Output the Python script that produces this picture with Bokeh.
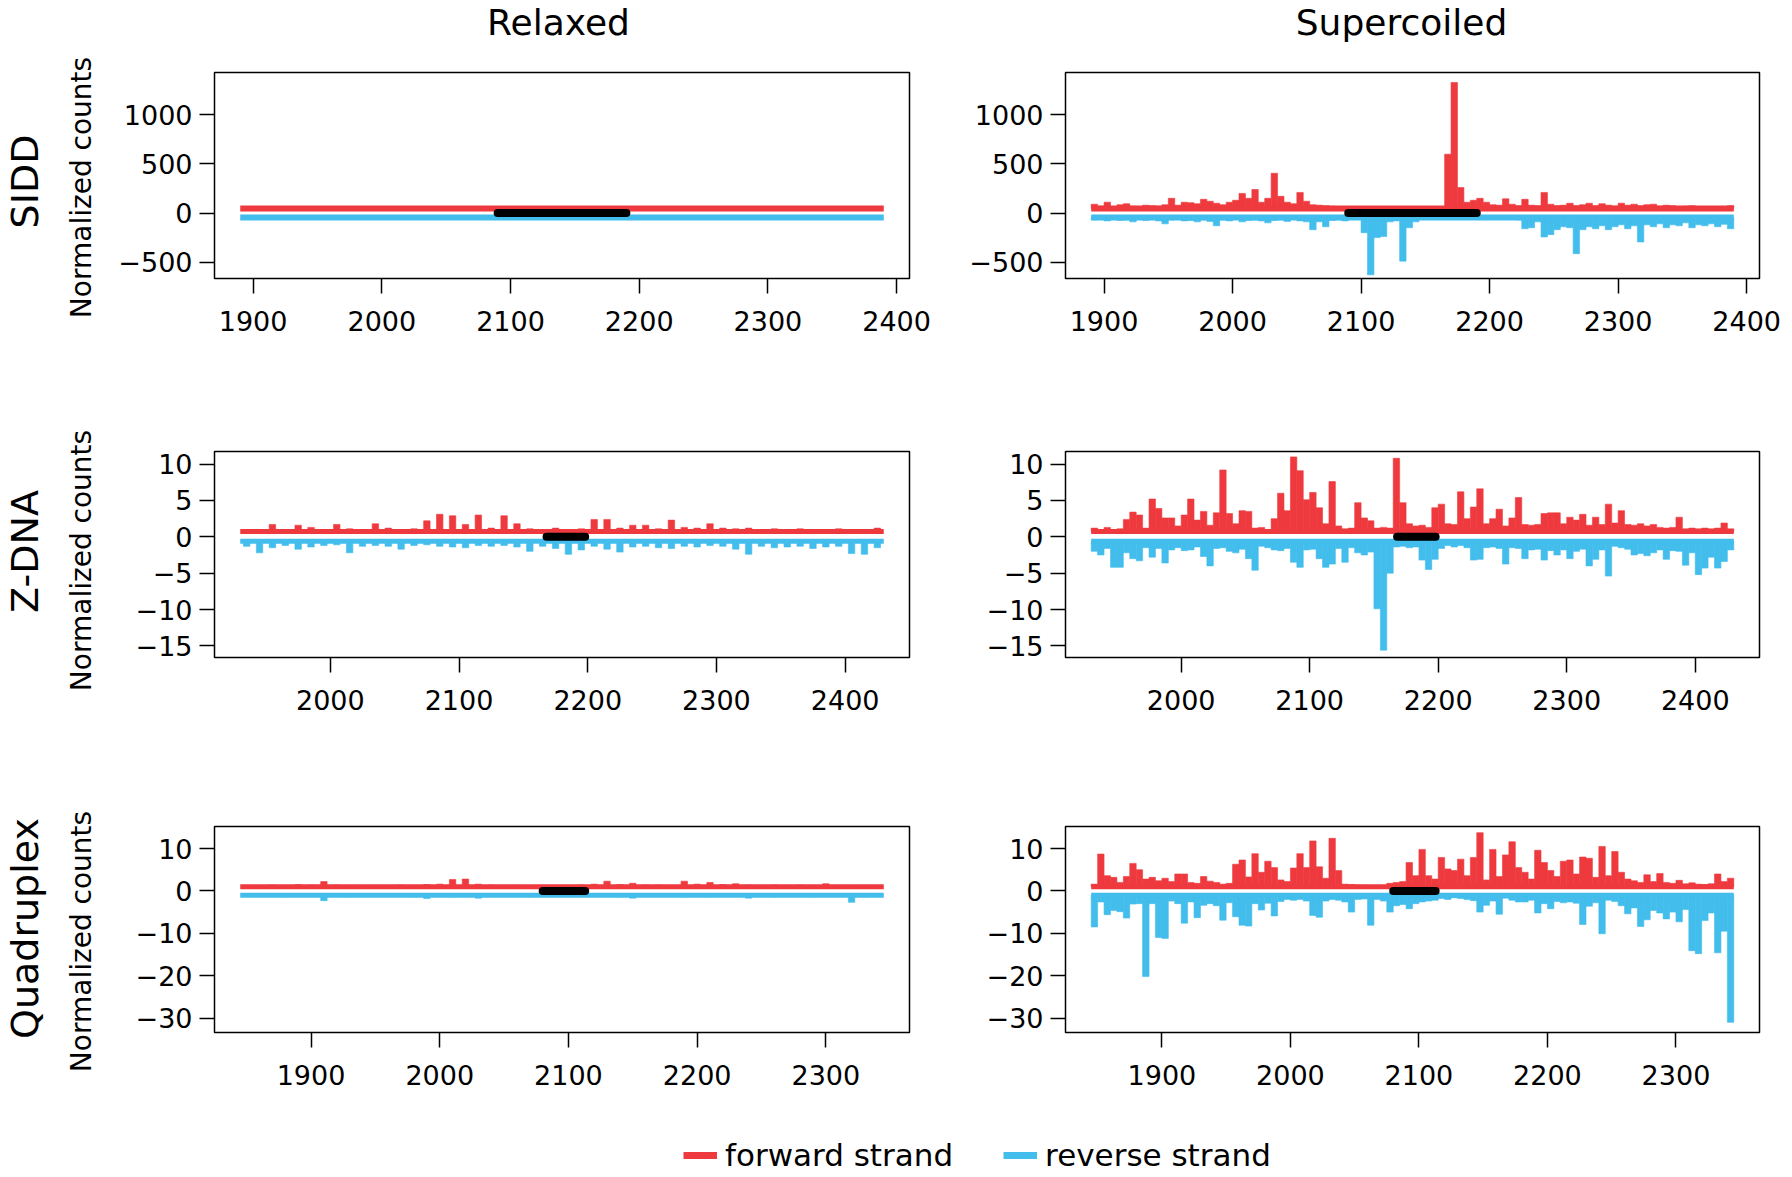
from bokeh.plotting import figure
from bokeh.layouts import column, row
from bokeh.models import Range1d, FixedTicker, Label, Legend, LegendItem
from bokeh.embed import file_html
from bokeh.resources import INLINE

FONT = "DejaVu Sans"
RED = "#EE3A3E"
BLUE = "#42BDEC"

column_titles = ["Relaxed", "Supercoiled"]
row_titles = ["SIDD", "Z-DNA", "Quadruplex"]
y_axis_label = "Normalized counts"
legend_labels = ["forward strand", "reverse strand"]

# ---------------- SIDD ----------------
sidd_span = (1890, 2390)
sidd_motif = (2090, 2190)
sidd_base = (45, -45)
sidd_ylim = (-667, 1432)
sidd_x_ticks = [1900, 2000, 2100, 2200, 2300, 2400]
sidd_y_ticks = [-500, 0, 500, 1000]
sidd_y_tick_labels = ["\u2212500", "0", "500", "1000"]

sidd_relaxed_fwd = [46, 45, 46, 45, 47, 45, 46, 45, 46, 47, 45, 46, 45, 46, 45, 47, 46, 45, 46, 45,
                    46, 45, 46, 45, 46, 45, 47, 46, 58, 52, 50, 55, 52, 54, 50, 56, 52, 55, 51, 57,
                    53, 50, 55, 52, 49, 50, 47, 46, 45, 46]
sidd_relaxed_rev = [-46, -45, -46, -47, -45, -46, -45, -46, -48, -45, -46, -45, -47, -45, -46, -45, -46, -45, -47, -46,
                    -45, -46, -45, -46, -45, -46, -47, -45, -46, -45, -46, -45, -46, -48, -45, -46, -45, -47, -46, -45,
                    -46, -45, -46, -45, -47, -46, -45, -46, -45, -46]
sidd_super_fwd = [90, 70, 110, 60, 85, 95, 70, 60, 80, 75,
                  70, 85, 150, 80, 110, 105, 95, 140, 120, 100,
                  85, 110, 130, 200, 150, 240, 110, 150, 405, 170,
                  110, 95, 210, 120, 85, 80, 75, 70, 60, 55,
                  50, 48, 46, 45, 45, 45, 45, 45, 45, 45,
                  45, 45, 46, 48, 52, 600, 1330, 260, 110, 130,
                  150, 110, 85, 80, 145, 90, 75, 140, 80, 75,
                  210, 90, 75, 80, 100, 75, 85, 100, 75, 95,
                  80, 70, 100, 80, 90, 75, 85, 90, 70, 80,
                  75, 65, 70, 75, 60, 65, 55, 60, 55, 75]
sidd_super_rev = [-70, -60, -80, -65, -75, -70, -90, -60, -75, -65,
                  -80, -110, -70, -65, -80, -75, -90, -70, -85, -130,
                  -70, -80, -65, -90, -75, -70, -80, -100, -75, -70,
                  -85, -65, -80, -90, -170, -90, -140, -75, -70, -80,
                  -60, -60, -200, -630, -250, -240, -90, -80, -490, -150,
                  -90, -60, -45, -45, -45, -45, -45, -45, -45, -45,
                  -45, -45, -45, -45, -45, -45, -70, -160, -150, -90,
                  -244, -220, -170, -140, -150, -414, -170, -140, -160, -130,
                  -170, -140, -120, -160, -130, -295, -120, -140, -110, -150,
                  -120, -130, -100, -150, -120, -130, -110, -140, -115, -160]

# ---------------- Z-DNA ----------------
zdna_span = (1930, 2430)
zdna_motif = (2168, 2198)
zdna_base = (0.72, -0.6)
zdna_ylim = (-16.6, 11.74)
zdna_x_ticks = [2000, 2100, 2200, 2300, 2400]
zdna_y_ticks = [-15, -10, -5, 0, 5, 10]
zdna_y_tick_labels = ["\u221215", "\u221210", "\u22125", "0", "5", "10"]

zdna_relaxed_fwd = [1.0, 0.9, 1.7, 1.0, 1.6, 1.3, 1.0, 1.7, 1.1, 1.0,
                    1.8, 1.2, 1.0, 1.1, 2.2, 3.1, 2.9, 1.7, 3.0, 1.2,
                    2.9, 1.8, 1.1, 1.0, 1.2, 1.0, 1.1, 2.4, 2.4, 1.2,
                    1.6, 1.6, 1.1, 2.3, 1.3, 1.2, 1.8, 1.2, 1.1, 1.2,
                    1.0, 1.1, 1.0, 1.1, 1.0, 1.0, 1.1, 1.0, 1.0, 1.2]
zdna_relaxed_rev = [-1.3, -2.2, -1.5, -1.2, -1.7, -1.4, -1.2, -1.1, -2.2, -1.3,
                    -1.2, -1.3, -1.7, -1.2, -1.1, -1.3, -1.4, -1.5, -1.2, -1.3,
                    -1.2, -1.4, -2.0, -1.3, -1.6, -2.4, -1.8, -1.3, -1.7, -2.1,
                    -1.4, -1.3, -1.5, -1.6, -1.3, -1.4, -1.2, -1.3, -1.7, -2.4,
                    -1.3, -1.5, -1.4, -1.3, -1.6, -1.4, -1.3, -2.3, -2.4, -1.5]
zdna_super_fwd = [1.2, 1.0, 1.3, 1.0, 1.1, 2.4, 3.4, 3.0, 1.2, 5.2,
                  3.9, 2.6, 2.6, 1.5, 3.0, 5.2, 2.3, 3.5, 1.6, 3.3,
                  9.2, 3.2, 1.8, 3.6, 3.5, 1.2, 1.3, 1.0, 2.5, 6.0,
                  3.6, 11.0, 9.1, 5.1, 6.1, 4.0, 1.8, 7.6, 1.5, 1.1,
                  1.2, 4.7, 2.6, 2.2, 1.2, 1.3, 1.2, 10.8, 4.7, 1.8,
                  1.5, 1.6, 1.3, 4.0, 4.5, 1.8, 1.7, 6.2, 2.5, 4.1,
                  6.6, 1.8, 2.5, 3.8, 1.5, 2.6, 5.4, 1.7, 1.6, 1.7,
                  3.2, 3.3, 3.3, 1.8, 2.7, 2.3, 3.1, 1.6, 2.7, 1.7,
                  4.5, 1.9, 3.6, 1.7, 1.6, 1.8, 1.5, 1.7, 1.3, 1.2,
                  1.3, 2.7, 1.1, 1.2, 1.1, 1.2, 1.1, 1.2, 1.9, 1.1]
zdna_super_rev = [-2.0, -2.5, -1.6, -4.2, -4.2, -2.2, -3.0, -3.3, -1.5, -2.8,
                  -1.6, -3.6, -1.8, -1.5, -1.9, -1.8, -1.4, -2.7, -4.0, -1.6,
                  -1.5, -2.0, -2.2, -1.7, -3.0, -4.6, -1.3, -1.5, -1.8, -1.9,
                  -1.6, -3.5, -4.2, -1.8, -1.7, -3.0, -4.2, -3.75, -1.6, -3.5,
                  -1.5, -2.2, -2.5, -2.1, -9.9, -15.6, -5.0, -1.4, -1.3, -1.5,
                  -1.4, -3.2, -4.5, -3.1, -1.6, -1.2, -1.4, -1.2, -1.5, -3.2,
                  -3.1, -1.5, -1.4, -1.6, -3.75, -1.5, -1.6, -3.0, -1.8, -1.7,
                  -3.2, -1.9, -2.5, -1.8, -3.0, -2.0, -1.7, -4.0, -3.1, -1.8,
                  -5.4, -1.3, -1.5, -1.7, -2.5, -2.3, -2.6, -2.2, -1.8, -3.1,
                  -1.9, -2.0, -3.9, -2.2, -5.2, -4.3, -2.8, -4.3, -3.4, -1.8]

# ---------------- Quadruplex ----------------
quad_span = (1845, 2345)
quad_motif = (2080, 2113)
quad_base = (1.0, -1.0)
quad_ylim = (-33.4, 15.2)
quad_x_ticks = [1900, 2000, 2100, 2200, 2300]
quad_y_ticks = [-30, -20, -10, 0, 10]
quad_y_tick_labels = ["\u221230", "\u221220", "\u221210", "0", "10"]

quad_relaxed_fwd = [1.3, 1.2, 1.4, 1.3, 1.5, 1.4, 2.2, 1.4, 1.3, 1.2,
                    1.3, 1.2, 1.4, 1.3, 1.5, 1.6, 2.7, 2.8, 1.6, 1.4,
                    1.3, 1.3, 1.2, 1.1, 1.2, 1.3, 1.4, 1.6, 2.3, 1.5,
                    1.8, 1.4, 1.4, 1.3, 2.3, 1.6, 2.0, 1.5, 1.7, 1.4,
                    1.3, 1.4, 1.3, 1.4, 1.3, 1.7, 1.3, 1.2, 1.3, 1.2]
quad_relaxed_rev = [-1.3, -1.2, -1.3, -1.4, -1.2, -1.3, -2.3, -1.3, -1.4, -1.2,
                    -1.3, -1.2, -1.3, -1.4, -1.8, -1.3, -1.4, -1.3, -1.7, -1.3,
                    -1.2, -1.3, -1.4, -1.2, -1.3, -1.2, -1.3, -1.2, -1.3, -1.4,
                    -1.7, -1.3, -1.2, -1.3, -1.4, -1.3, -1.4, -1.3, -1.3, -1.7,
                    -1.3, -1.4, -1.2, -1.3, -1.4, -1.3, -1.2, -2.7, -1.4, -1.3]
quad_super_fwd = [1.6, 8.7, 3.6, 3.2, 2.0, 3.4, 6.5, 5.0, 2.8, 3.2,
                  2.4, 3.0, 2.2, 4.0, 4.0, 2.0, 1.8, 3.4, 2.3, 2.0,
                  1.6, 1.8, 6.3, 7.3, 3.3, 8.8, 4.4, 7.0, 5.5, 2.6,
                  2.2, 5.4, 8.8, 5.5, 11.8, 5.7, 3.0, 12.4, 4.8, 1.6,
                  1.5, 1.4, 1.3, 1.2, 1.1, 1.2, 1.8, 2.0, 2.2, 6.7,
                  3.6, 9.8, 3.6, 2.8, 7.9, 5.2, 4.8, 7.5, 3.6, 7.9,
                  13.75, 2.6, 9.8, 3.4, 8.5, 11.6, 5.5, 4.4, 2.8, 9.6,
                  6.7, 4.8, 3.4, 7.0, 7.3, 4.0, 8.0, 7.7, 3.2, 10.5,
                  3.6, 9.3, 4.4, 2.8, 2.4, 2.0, 3.8, 2.2, 4.1, 2.0,
                  1.8, 2.5, 1.7, 1.9, 1.6, 1.5, 1.7, 4.0, 2.2, 3.0]
quad_super_rev = [-8.5, -2.6, -5.6, -4.6, -4.9, -6.4, -3.1, -3.0, -20.2, -3.0,
                  -11.0, -11.2, -2.4, -3.0, -7.6, -2.6, -6.3, -3.4, -3.0, -3.5,
                  -6.9, -2.8, -6.1, -8.1, -8.3, -3.0, -4.5, -2.9, -5.9, -2.5,
                  -2.0, -2.2, -2.0, -2.4, -5.8, -6.2, -2.4, -2.0, -2.2, -2.6,
                  -5.0, -2.0, -1.9, -8.1, -2.0, -2.4, -5.0, -3.5, -3.2, -4.2,
                  -3.0, -2.6, -2.4, -2.2, -1.8, -2.0, -1.6, -1.8, -2.0, -2.3,
                  -5.0, -3.4, -2.4, -5.5, -1.7, -2.2, -2.6, -2.6, -2.2, -5.2,
                  -3.0, -4.2, -2.5, -2.8, -2.6, -2.9, -7.9, -3.6, -2.8, -10.1,
                  -2.2, -2.5, -3.5, -5.4, -4.0, -8.4, -6.8, -4.6, -5.2, -6.6,
                  -5.0, -7.3, -4.4, -14.1, -14.8, -7.0, -5.2, -14.6, -9.5, -31.0]

rows_cfg = [
    dict(span=sidd_span, motif=sidd_motif, base=sidd_base, ylim=sidd_ylim,
         xt=sidd_x_ticks, yt=sidd_y_ticks, ytl=sidd_y_tick_labels,
         data=[(sidd_relaxed_fwd, sidd_relaxed_rev), (sidd_super_fwd, sidd_super_rev)],
         base_w=6),
    dict(span=zdna_span, motif=zdna_motif, base=zdna_base, ylim=zdna_ylim,
         xt=zdna_x_ticks, yt=zdna_y_ticks, ytl=zdna_y_tick_labels,
         data=[(zdna_relaxed_fwd, zdna_relaxed_rev), (zdna_super_fwd, zdna_super_rev)],
         base_w=5),
    dict(span=quad_span, motif=quad_motif, base=quad_base, ylim=quad_ylim,
         xt=quad_x_ticks, yt=quad_y_ticks, ytl=quad_y_tick_labels,
         data=[(quad_relaxed_fwd, quad_relaxed_rev), (quad_super_fwd, quad_super_rev)],
         base_w=5),
]

# ---------------- layout (pixels) ----------------
TOTAL_W = 1781
HEADER_H = 68
SIDE_W = 110
FRAME_W = [695, 694]
FRAME_H = 206
BORDER_L = [104, 116]
BORDER_R = [40, 22]
BORDER_T = [4, 40, 40]
BORDER_B = [133, 129, 65]
ROWS_H = sum(BORDER_T[r] + FRAME_H + BORDER_B[r] for r in range(3))
SIDE_H = HEADER_H + ROWS_H
LEGEND_H = 76

# text anchor positions, in page pixels
COL_TITLE_X = [558, 1401]
COL_TITLE_BASELINE = 22
ROW_TITLE_BASELINE_X = 24
ROW_TITLE_Y = [181, 551, 928]
YLABEL_BASELINE_X = 81
YLABEL_Y = [187, 560, 941]
LEGEND_X = 683
BAR_BP = 5.0


def blank_fig(w, h, xr, yr):
    f = figure(output_backend="svg", toolbar_location=None, width=w, height=h,
               min_border=0, x_axis_location=None, y_axis_location=None,
               x_range=Range1d(*xr), y_range=Range1d(*yr),
               outline_line_color=None, background_fill_color="white",
               border_fill_color="white")
    f.grid.visible = False
    return f


def add_text(f, text, x, y, size, angle=0):
    f.add_layout(Label(x=x, y=y, text=text, angle=angle, angle_units="deg",
                       text_align="center", text_baseline="alphabetic",
                       text_font=FONT, text_font_size=size, text_color="black"))


def strand(p, span, values, base, color, base_w):
    s0, s1 = span
    step = (s1 - s0) / len(values)
    xs = [s0 + step * (k + 0.5) for k in range(len(values))]
    p.vbar(x=xs, width=BAR_BP, bottom=base, top=values,
           fill_color=color, line_color=color, line_width=0.6)
    p.line(x=[s0, s1], y=[base, base], line_color=color, line_width=base_w)


def make_panel(r, c):
    cfg = rows_cfg[r]
    s0, s1 = cfg["span"]
    pad = 0.04 * (s1 - s0)
    p = figure(output_backend="svg", toolbar_location=None,
               frame_width=FRAME_W[c], frame_height=FRAME_H,
               x_range=Range1d(s0 - pad, s1 + pad), y_range=Range1d(*cfg["ylim"]),
               min_border_left=BORDER_L[c], min_border_right=BORDER_R[c],
               min_border_top=BORDER_T[r], min_border_bottom=BORDER_B[r],
               background_fill_color="white", border_fill_color="white")
    fwd, rev = cfg["data"][c]
    strand(p, cfg["span"], fwd, cfg["base"][0], RED, cfg["base_w"])
    strand(p, cfg["span"], rev, cfg["base"][1], BLUE, cfg["base_w"])
    m0, m1 = cfg["motif"]
    p.line(x=[m0, m1], y=[0, 0], line_color="black", line_width=8, line_cap="round")

    p.grid.grid_line_color = None
    p.outline_line_color = "black"
    p.outline_line_width = 1.5
    p.outline_line_alpha = 1.0

    p.xaxis.ticker = FixedTicker(ticks=cfg["xt"])
    p.yaxis.ticker = FixedTicker(ticks=cfg["yt"])
    p.yaxis.major_label_overrides = {t: lab for t, lab in zip(cfg["yt"], cfg["ytl"])}
    for ax in (p.xaxis[0], p.yaxis[0]):
        ax.axis_line_color = None
        ax.major_tick_in = 0
        ax.major_tick_out = 15
        ax.major_tick_line_color = "black"
        ax.major_tick_line_width = 1.5
        ax.minor_tick_line_color = None
        ax.major_label_text_font = FONT
        ax.major_label_text_font_size = "27px"
        ax.major_label_text_color = "black"
    p.xaxis.major_label_standoff = 17
    p.yaxis.major_label_standoff = 7
    return p


# header with column titles (page-pixel coordinates, y pointing down)
header = blank_fig(TOTAL_W - SIDE_W, HEADER_H, (SIDE_W, TOTAL_W), (HEADER_H, 0))
for c in range(2):
    add_text(header, column_titles[c], COL_TITLE_X[c], COL_TITLE_BASELINE, "36px")

# left strip with row titles and y-axis label (page-pixel coordinates)
side = blank_fig(SIDE_W, SIDE_H, (0, SIDE_W), (SIDE_H, 0))
for r in range(3):
    add_text(side, row_titles[r], ROW_TITLE_BASELINE_X, ROW_TITLE_Y[r], "38px", angle=90)
    add_text(side, y_axis_label, YLABEL_BASELINE_X, YLABEL_Y[r], "28px", angle=90)

panels = column(*[row(make_panel(r, 0), make_panel(r, 1)) for r in range(3)])

lp = blank_fig(TOTAL_W, LEGEND_H, (0, 1), (0, 1))
r_f = lp.line(x=[-3, -2], y=[-3, -3], line_color=RED, line_width=7)
r_r = lp.line(x=[-3, -2], y=[-3, -3], line_color=BLUE, line_width=7)
legend = Legend(items=[LegendItem(label=legend_labels[0], renderers=[r_f]),
                       LegendItem(label=legend_labels[1], renderers=[r_r])],
                orientation="horizontal", location=(LEGEND_X, 0),
                glyph_width=34, glyph_height=30, label_standoff=8, spacing=50,
                padding=0, margin=0, border_line_color=None, background_fill_alpha=0,
                label_text_font=FONT, label_text_font_size="31px", label_text_color="black")
lp.add_layout(legend, "center")

layout = column(row(side, column(header, panels)), lp)
open("out.html", "w").write(file_html(layout, INLINE, title="Strand counts"))
